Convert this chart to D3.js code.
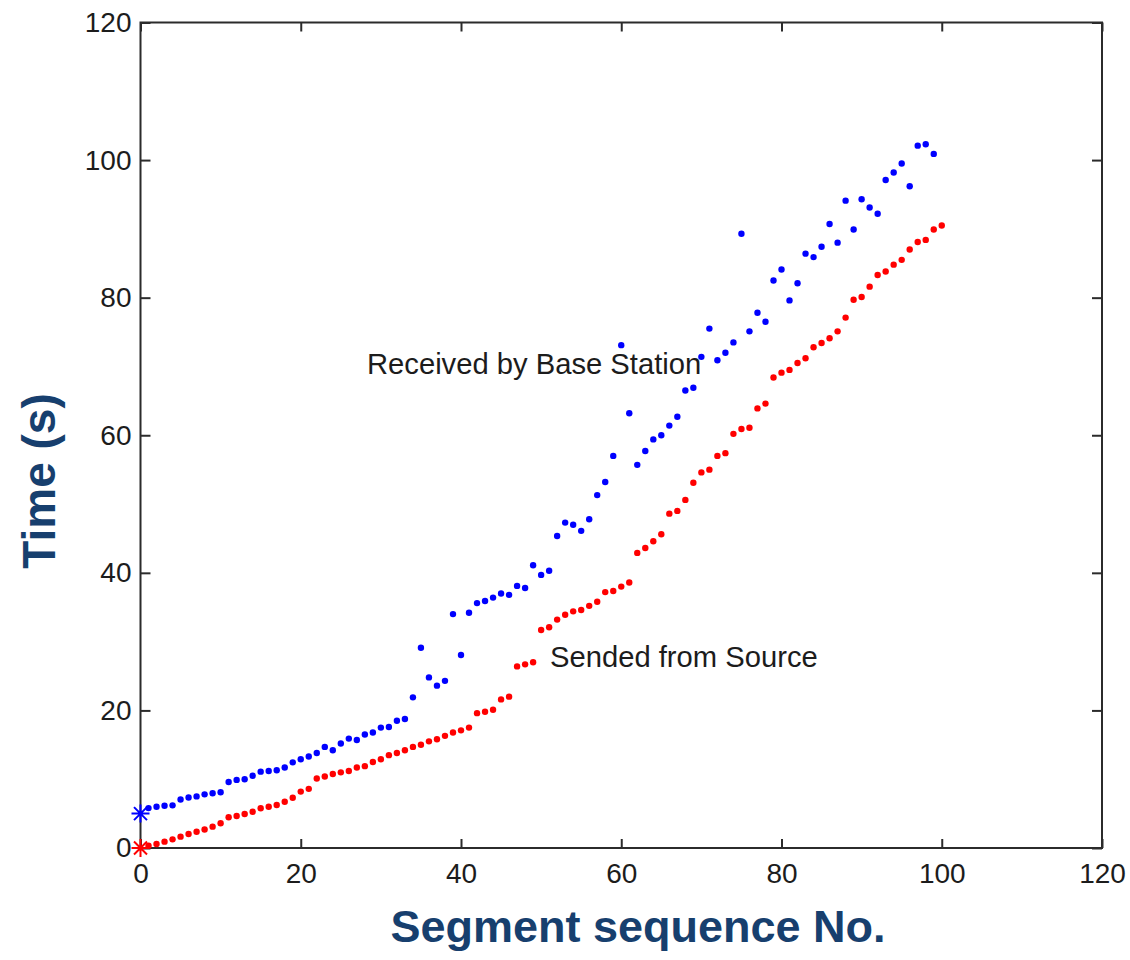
<!DOCTYPE html>
<html>
<head>
<meta charset="utf-8">
<script src="https://cdn.jsdelivr.net/npm/d3@7"></script>
<style>
  html, body { margin: 0; padding: 0; background: #fff; }
  #chart { width: 1130px; height: 960px; }
</style>
</head>
<body>
<div id="chart"></div>
<script>
  var FONT = "'Liberation Sans', Arial, sans-serif";
  var NAVY = "#173f6e";

  // Time received by base station, segment 0..99 (s)
  var received = [
    5.0, 5.8, 6.0, 6.15, 6.2, 7.05, 7.35, 7.5, 7.8, 7.95,
    8.1, 9.6, 9.9, 10.0, 10.5, 11.1, 11.2, 11.3, 11.7, 12.45,
    12.9, 13.3, 13.8, 14.7, 14.2, 15.2, 15.9, 15.7, 16.5, 16.8,
    17.5, 17.6, 18.5, 18.75, 21.9, 29.1, 24.8, 23.6, 24.3, 34.0,
    28.05, 34.2, 35.6, 35.9, 36.4, 37.0, 36.8, 38.1, 37.8, 41.1,
    39.7, 40.3, 45.35, 47.3, 47.0, 46.1, 47.8, 51.3, 53.2, 57.0,
    73.1, 63.2, 55.7, 57.7, 59.4, 60.0, 61.4, 62.7, 66.5, 66.9,
    71.4, 75.5, 70.9, 72.0, 73.5, 89.3, 75.1, 77.8, 76.5, 82.5,
    84.1, 79.6, 82.1, 86.4, 85.9, 87.4, 90.7, 88.0, 94.1, 89.9,
    94.3, 93.1, 92.2, 97.1, 98.2, 99.5, 96.2, 102.1, 102.3, 100.9
  ];

  // Time sent from source, segment 0..100 (s)
  var sent = [
    0.0, 0.34, 0.58, 0.92, 1.26, 1.65, 2.03, 2.37, 2.7, 3.1,
    3.6, 4.46, 4.65, 4.94, 5.28, 5.77, 6.0, 6.25, 6.73, 7.3,
    8.2, 8.6, 10.1, 10.4, 10.75, 11.0, 11.2, 11.7, 11.9, 12.5,
    12.9, 13.5, 13.8, 14.2, 14.7, 15.0, 15.5, 15.8, 16.3, 16.8,
    17.1, 17.5, 19.6, 19.8, 20.1, 21.6, 22.0, 26.4, 26.7, 27.0,
    31.7, 32.1, 33.2, 33.9, 34.4, 34.6, 35.2, 35.8, 37.2, 37.35,
    38.0, 38.6, 42.9, 43.6, 44.6, 45.6, 48.6, 49.0, 50.6, 53.1,
    54.6, 55.0, 57.0, 57.4, 60.2, 60.9, 61.1, 63.9, 64.6, 68.4,
    69.1, 69.5, 70.5, 71.2, 72.8, 73.4, 74.1, 75.1, 77.1, 79.7,
    80.1, 81.6, 83.3, 83.8, 84.8, 85.5, 87.0, 88.1, 88.4, 89.9,
    90.5
  ];

  var xTicks = [0, 20, 40, 60, 80, 100, 120];
  var yTicks = [0, 20, 40, 60, 80, 100, 120];

  var W = 1130, H = 960;
  var M = { left: 140.5, right: 1102, top: 22.5, bottom: 848 };

  var svg = d3.select("#chart").append("svg")
    .attr("width", W).attr("height", H)
    .style("display", "block")
    .style("background", "#fff");

  var x = d3.scaleLinear().domain([0, 120]).range([M.left, M.right]);
  var y = d3.scaleLinear().domain([0, 120]).range([M.bottom, M.top]);

  // Box
  svg.append("rect")
    .attr("x", M.left).attr("y", M.top)
    .attr("width", M.right - M.left).attr("height", M.bottom - M.top)
    .attr("fill", "none").attr("stroke", "#2b2b2b").attr("stroke-width", 2);

  // Axes (inward ticks, mirrored on top/right)
  function styleAxis(g) {
    g.select(".domain").remove();
    g.selectAll(".tick line").attr("stroke", "#2b2b2b").attr("stroke-width", 2);
    g.selectAll(".tick text")
      .attr("fill", "#1c1c1c").attr("font-size", "28px").attr("font-family", FONT);
  }

  svg.append("g").attr("transform", "translate(0," + M.bottom + ")")
    .call(d3.axisBottom(x).tickValues(xTicks).tickSize(-9).tickPadding(15).tickFormat(d3.format("d")))
    .call(styleAxis);
  svg.append("g").attr("transform", "translate(0," + M.top + ")")
    .call(d3.axisTop(x).tickValues(xTicks).tickSize(-9).tickFormat(""))
    .call(styleAxis);
  svg.append("g").attr("transform", "translate(" + M.left + ",0)")
    .call(d3.axisLeft(y).tickValues(yTicks).tickSize(-10).tickPadding(9).tickFormat(d3.format("d")))
    .call(styleAxis);
  svg.append("g").attr("transform", "translate(" + M.right + ",0)")
    .call(d3.axisRight(y).tickValues(yTicks).tickSize(-10).tickFormat(""))
    .call(styleAxis);

  // Data points
  function drawSeries(values, color) {
    svg.append("g").selectAll("circle")
      .data(values.slice(1))
      .enter().append("circle")
      .attr("cx", function (d, i) { return x(i + 1); })
      .attr("cy", function (d) { return y(d); })
      .attr("r", 3.2)
      .attr("fill", color);

    // start marker (asterisk)
    var cx = x(0), cy = y(values[0]), r = 9, q = 6.5;
    svg.append("path")
      .attr("d", "M" + (cx - r) + "," + cy + "H" + (cx + r) +
        "M" + cx + "," + (cy - r) + "V" + (cy + r) +
        "M" + (cx - q) + "," + (cy - q) + "L" + (cx + q) + "," + (cy + q) +
        "M" + (cx - q) + "," + (cy + q) + "L" + (cx + q) + "," + (cy - q))
      .attr("stroke", color).attr("stroke-width", 2).attr("fill", "none");
  }
  drawSeries(received, "#0000ff");
  drawSeries(sent, "#ff0000");

  // Annotations
  svg.append("text").attr("x", 367).attr("y", 374)
    .attr("fill", "#1c1c1c").attr("font-size", "29.2px").attr("font-family", FONT)
    .text("Received by Base Station");
  svg.append("text").attr("x", 550).attr("y", 667)
    .attr("fill", "#1c1c1c").attr("font-size", "29.2px").attr("font-family", FONT)
    .text("Sended from Source");

  // Axis titles
  svg.append("text")
    .attr("x", 638).attr("y", 942)
    .attr("text-anchor", "middle")
    .attr("fill", NAVY).attr("font-size", "45px").attr("font-weight", "700")
    .attr("font-family", FONT).text("Segment sequence No.");
  svg.append("text")
    .attr("transform", "translate(55,481) rotate(-90)")
    .attr("text-anchor", "middle")
    .attr("fill", NAVY).attr("font-size", "46px").attr("font-weight", "700")
    .attr("font-family", FONT).text("Time (s)");
</script>
</body>
</html>
